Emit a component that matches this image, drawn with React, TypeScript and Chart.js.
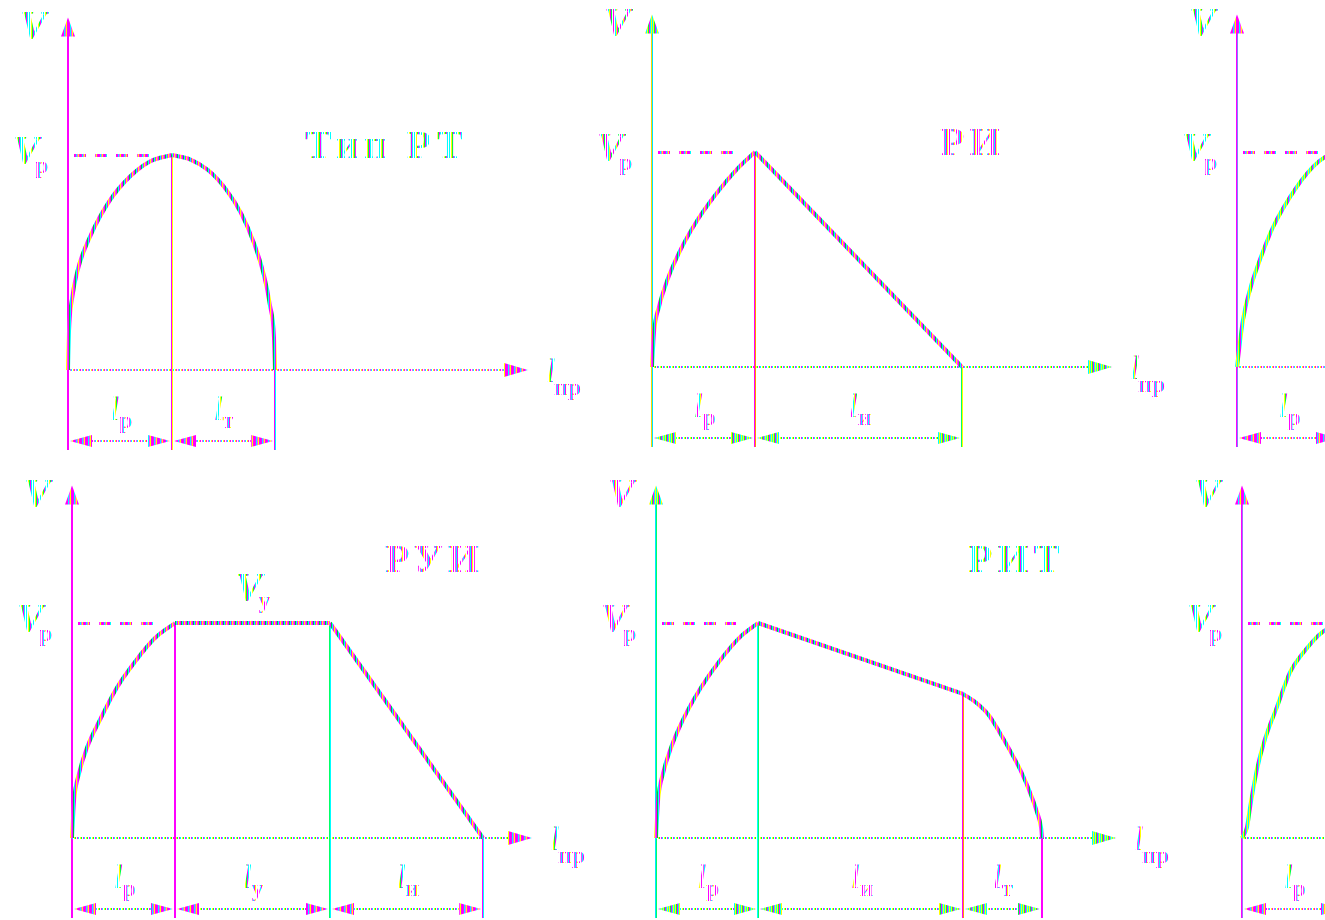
import React, { useEffect, useRef } from "react";
import { Chart, registerables } from "chart.js";

Chart.register(...registerables);

// ---- Тип РТ: разгон, торможение
const rtAccelL = [0, 0.01, 0.04, 0.1, 0.22, 0.42, 0.62, 0.82, 1.04];
const rtAccelV = [0, 0.18, 0.33, 0.47, 0.62, 0.79, 0.9, 0.97, 1.0];
const rtBrakeL = [1.04, 1.22, 1.4, 1.58, 1.73, 1.86, 1.96, 2.02, 2.06, 2.07];
const rtBrakeV = [1.0, 0.98, 0.93, 0.84, 0.73, 0.59, 0.44, 0.3, 0.15, 0];
const rtMarks = [0, 1.04, 2.07];
const rtSubs = ["р", "т"];

// ---- РИ: разгон, выбег
const riAccelL = [0, 0.02, 0.07, 0.15, 0.28, 0.45, 0.65, 0.85, 1.03];
const riAccelV = [0, 0.16, 0.28, 0.4, 0.54, 0.68, 0.81, 0.92, 1.0];
const riCoastL = [1.03, 3.1];
const riCoastV = [1.0, 0];
const riMarks = [0, 1.03, 3.1];
const riSubs = ["р", "и"];

// ---- третья схема верхнего ряда
const p3AccelL = [0, 0.06, 0.13, 0.23, 0.36, 0.53, 0.7, 0.86, 1.03];
const p3AccelV = [0, 0.22, 0.36, 0.5, 0.65, 0.79, 0.9, 0.97, 1.0];
const p3Marks = [0, 1.03];
const p3Subs = ["р"];

// ---- РУИ: разгон, установившийся режим, выбег
const ruiAccelL = [0, 0.02, 0.07, 0.15, 0.28, 0.45, 0.63, 0.83, 1.03];
const ruiAccelV = [0, 0.17, 0.3, 0.42, 0.55, 0.7, 0.82, 0.93, 1.0];
const ruiSteadyL = [1.03, 2.58];
const ruiSteadyV = [1.0, 1.0];
const ruiCoastL = [2.58, 4.11];
const ruiCoastV = [1.0, 0];
const ruiMarks = [0, 1.03, 2.58, 4.11];
const ruiSubs = ["р", "у", "и"];

// ---- РИТ: разгон, выбег, торможение
const ritAccelL = [0, 0.02, 0.07, 0.15, 0.28, 0.45, 0.63, 0.83, 1.02];
const ritAccelV = [0, 0.17, 0.3, 0.42, 0.56, 0.7, 0.82, 0.93, 1.0];
const ritCoastL = [1.02, 3.07];
const ritCoastV = [1.0, 0.67];
const ritBrakeL = [3.07, 3.2, 3.33, 3.45, 3.56, 3.66, 3.75, 3.81, 3.85, 3.86];
const ritBrakeV = [0.67, 0.63, 0.57, 0.48, 0.39, 0.3, 0.2, 0.12, 0.05, 0];
const ritMarks = [0, 1.02, 3.07, 3.86];
const ritSubs = ["р", "и", "т"];

// ---- третья схема нижнего ряда
const p6AccelL = [0, 0.05, 0.08, 0.15, 0.23, 0.35, 0.48, 0.61, 0.81, 1.03];
const p6AccelV = [0, 0.05, 0.14, 0.32, 0.46, 0.61, 0.77, 0.86, 0.96, 1.0];
const p6Marks = [0, 1.03];
const p6Subs = ["р"];

// ---- geometry of one panel canvas
const PX_L = 100; // px per unit of path
const PX_V = 215; // px per V_р
const CW = 585;
const CH = 470;
const PAD_L = 60;
const PAD_T = 365;
const L_AXIS = 4.6;
const V_AXIS = 1.64;
const DIM = -71 / PX_V;

const PALETTES: Record<string, string[]> = {
  mag: ["#ff00ff", "#ff00ff", "#00ffff", "#ff40ff", "#ffff00", "#ff00ff"],
  grn: ["#00ffff", "#ffff00", "#00ff40", "#ff00ff", "#00ffff", "#ffff00"],
  mix: ["#ff00ff", "#00c040", "#00ffff", "#ff00ff", "#ffff00", "#ff40ff"],
  magDot: ["#ff00ff", "#ffffff", "#ff40ff", "#00ffff", "#ffffff", "#ffff00"],
  grnDot: ["#00ffff", "#ffffff", "#ffff00", "#00ff40", "#ffffff", "#ff00ff"],
  magTxt: ["#ff00ff", "#ffffff", "#ff40ff", "#00ffff", "#ff00ff", "#ffff00", "#ffffff"],
  grnTxt: ["#00ffff", "#ffffff", "#ffff00", "#00ff40", "#ff00ff", "#00ffff", "#ffffff"],
  mixTxt: ["#ff00ff", "#ffffff", "#00ffff", "#ffff00", "#ff00ff", "#00ff40", "#ffffff"],
};

type Seg = { l: number[]; v: number[] };
type Tone = {
  yAxis: string[];
  axis: string;
  xAxis: string;
  dim: string;
  curve: string;
  dash: string;
  label: string;
  sub: string;
  title: string;
  marks: string[][];
};
type PanelCfg = {
  ox: number;
  oy: number;
  segs: Seg[];
  marks: number[];
  subs: string[];
  title?: string;
  titleAt?: [number, number];
  steadyLabel?: boolean;
  tone: Tone;
};

const PANELS: PanelCfg[] = [
  {
    ox: 68, oy: 370,
    segs: [{ l: rtAccelL, v: rtAccelV }, { l: rtBrakeL, v: rtBrakeV }],
    marks: rtMarks, subs: rtSubs, title: "Тип РТ", titleAt: [237, -212],
    tone: { yAxis: ["#ff00ff", "#ff00ff"], axis: "mag", xAxis: "magDot", dim: "magDot", curve: "mix", dash: "mag", label: "grnTxt", sub: "magTxt", title: "grnTxt", marks: [["#ff00ff", "#ffff00"], ["#ff00ff", "#00ffff"]] },
  },
  {
    ox: 652, oy: 367,
    segs: [{ l: riAccelL, v: riAccelV }, { l: riCoastL, v: riCoastV }],
    marks: riMarks, subs: riSubs, title: "РИ", titleAt: [288, -212],
    tone: { yAxis: ["#ffd700", "#00e5ff"], axis: "grn", xAxis: "grnDot", dim: "grnDot", curve: "mix", dash: "mag", label: "mixTxt", sub: "magTxt", title: "magTxt", marks: [["#ff00ff", "#ff9900"], ["#00ff66", "#ffff00"]] },
  },
  {
    ox: 1237, oy: 367,
    segs: [{ l: p3AccelL, v: p3AccelV }],
    marks: p3Marks, subs: p3Subs,
    tone: { yAxis: ["#ff00ff", "#8080ff"], axis: "mag", xAxis: "magDot", dim: "magDot", curve: "grn", dash: "mag", label: "grnTxt", sub: "magTxt", title: "magTxt", marks: [["#ff00ff", "#00ffff"]] },
  },
  {
    ox: 72, oy: 838,
    segs: [{ l: ruiAccelL, v: ruiAccelV }, { l: ruiSteadyL, v: ruiSteadyV }, { l: ruiCoastL, v: ruiCoastV }],
    marks: ruiMarks, subs: ruiSubs, title: "РУИ", titleAt: [313, -266], steadyLabel: true,
    tone: { yAxis: ["#ff00ff", "#ff00ff"], axis: "mag", xAxis: "grnDot", dim: "grnDot", curve: "mix", dash: "mag", label: "grnTxt", sub: "magTxt", title: "magTxt", marks: [["#ff00ff", "#ff00ff"], ["#00ff66", "#00ffff"], ["#ff00ff", "#00ffff"]] },
  },
  {
    ox: 656, oy: 838,
    segs: [{ l: ritAccelL, v: ritAccelV }, { l: ritCoastL, v: ritCoastV }, { l: ritBrakeL, v: ritBrakeV }],
    marks: ritMarks, subs: ritSubs, title: "РИТ", titleAt: [312, -266],
    tone: { yAxis: ["#00e5ff", "#00ff66"], axis: "grn", xAxis: "grnDot", dim: "grnDot", curve: "mix", dash: "mag", label: "magTxt", sub: "magTxt", title: "grnTxt", marks: [["#00ffff", "#00ff66"], ["#ff00ff", "#ff9900"], ["#ff00ff", "#ff00ff"]] },
  },
  {
    ox: 1242, oy: 838,
    segs: [{ l: p6AccelL, v: p6AccelV }],
    marks: p6Marks, subs: p6Subs,
    tone: { yAxis: ["#ff00ff", "#a070ff"], axis: "mag", xAxis: "grnDot", dim: "magDot", curve: "grn", dash: "mag", label: "grnTxt", sub: "magTxt", title: "magTxt", marks: [["#ff00ff", "#00ffff"]] },
  },
];

const V_FONT = 'italic bold 40px "Liberation Serif"';
const L_FONT = 'italic 34px "Liberation Serif"';
const SUB_FONT = 'bold 24px "Liberation Serif"';
const TITLE_FONT = 'bold 40px "Liberation Serif"';

function stripes(ctx: CanvasRenderingContext2D, cols: string[]): CanvasPattern {
  const c = document.createElement("canvas");
  c.width = cols.length;
  c.height = 1;
  const g = c.getContext("2d")!;
  cols.forEach((col, i) => {
    g.fillStyle = col;
    g.fillRect(i, 0, 1, 1);
  });
  return ctx.createPattern(c, "repeat")!;
}

function vline(ctx: CanvasRenderingContext2D, x: number, y1: number, y2: number, cols: string[]) {
  const x0 = Math.round(x) - Math.floor(cols.length / 2);
  cols.forEach((c, i) => {
    ctx.fillStyle = c;
    ctx.fillRect(x0 + i, Math.min(y1, y2), 1, Math.abs(y2 - y1));
  });
}

function hline(ctx: CanvasRenderingContext2D, x1: number, x2: number, y: number, fill: CanvasPattern) {
  ctx.fillStyle = fill;
  ctx.fillRect(Math.min(x1, x2), Math.round(y) - 1, Math.abs(x2 - x1), 2);
}

function arrowH(ctx: CanvasRenderingContext2D, tipX: number, y: number, dir: number, len: number, half: number, fill: CanvasPattern) {
  ctx.fillStyle = fill;
  ctx.beginPath();
  ctx.moveTo(tipX, y);
  ctx.lineTo(tipX - dir * len, y - half);
  ctx.lineTo(tipX - dir * len, y + half);
  ctx.closePath();
  ctx.fill();
}

function valueAt(p: PanelCfg, l: number): number {
  for (const s of p.segs) {
    const i = s.l.indexOf(l);
    if (i >= 0) return s.v[i];
  }
  return 0;
}

function Panel({ p }: { p: PanelCfg }) {
  const ref = useRef<HTMLCanvasElement>(null);

  useEffect(() => {
    const canvas = ref.current!;
    const ctx0 = canvas.getContext("2d")!;
    const pat: Record<string, CanvasPattern> = {};
    Object.keys(PALETTES).forEach((k) => (pat[k] = stripes(ctx0, PALETTES[k])));
    const t = p.tone;

    const diagram = {
      id: "diagram",
      beforeDatasetsDraw(chart: Chart) {
        const ctx = chart.ctx;
        const X = (v: number) => chart.scales.x.getPixelForValue(v);
        const Y = (v: number) => chart.scales.y.getPixelForValue(v);
        const ox = X(0);
        const oy = Y(0);
        const dimY = Y(DIM);
        const bottom = dimY + 9;
        ctx.save();

        // V axis with arrow
        const top = Y(V_AXIS);
        vline(ctx, ox, top + 14, bottom, t.yAxis);
        ctx.fillStyle = pat[t.axis];
        ctx.beginPath();
        ctx.moveTo(ox, top);
        ctx.lineTo(ox - 7, top + 19);
        ctx.lineTo(ox + 7, top + 19);
        ctx.closePath();
        ctx.fill();

        // path axis with arrow
        const xEnd = X(L_AXIS);
        hline(ctx, ox, xEnd - 20, oy, pat[t.xAxis]);
        arrowH(ctx, xEnd, oy, 1, 24, 7, pat[t.axis]);

        // V_р dashed level
        const peakX = X(p.marks[1]);
        const yp = Math.round(Y(1)) - 1;
        ctx.fillStyle = pat[t.dash];
        for (let x = ox + 6; x < peakX - 22; x += 21) {
          ctx.fillRect(x, yp, Math.min(12, peakX - 22 - x), 3);
        }

        // boundaries of the stages
        p.marks.forEach((m, i) => {
          if (i === 0) return;
          vline(ctx, X(m), Y(valueAt(p, m)), bottom, t.marks[i - 1]);
        });

        // dimension chains
        for (let i = 0; i + 1 < p.marks.length; i++) {
          const a = X(p.marks[i]) + 2;
          const b = X(p.marks[i + 1]) - 2;
          hline(ctx, a + 18, b - 18, dimY, pat[t.dim]);
          arrowH(ctx, a, dimY, -1, 22, 6, pat[t.axis]);
          arrowH(ctx, b, dimY, 1, 22, 6, pat[t.axis]);
        }
        ctx.restore();
      },
      afterDatasetsDraw(chart: Chart) {
        const ctx = chart.ctx;
        const X = (v: number) => chart.scales.x.getPixelForValue(v);
        const Y = (v: number) => chart.scales.y.getPixelForValue(v);
        const ox = X(0);
        const oy = Y(0);
        const dimY = Y(DIM);
        ctx.save();
        ctx.textBaseline = "alphabetic";
        ctx.textAlign = "left";

        // V
        ctx.font = V_FONT;
        ctx.fillStyle = pat[t.label];
        ctx.fillText("V", ox - 48, Y(V_AXIS) + 21);
        // V_р
        ctx.fillText("V", ox - 55, Y(1) + 8);
        ctx.font = SUB_FONT;
        ctx.fillStyle = pat[t.sub];
        ctx.fillText("р", ox - 33, Y(1) + 18);

        // V_у over the steady stage
        if (p.steadyLabel) {
          const mid = (X(p.marks[1]) + X(p.marks[2])) / 2;
          ctx.font = V_FONT;
          ctx.fillStyle = pat[t.label];
          ctx.fillText("V", mid - 17, Y(1) - 23);
          ctx.font = SUB_FONT;
          ctx.fillStyle = pat[t.sub];
          ctx.fillText("у", mid + 6, Y(1) - 15);
        }

        // l_пр
        const xEnd = X(L_AXIS);
        ctx.font = L_FONT;
        ctx.fillStyle = pat[t.label];
        ctx.fillText("l", xEnd + 18, oy + 12);
        ctx.font = SUB_FONT;
        ctx.fillStyle = pat[t.sub];
        ctx.fillText("пр", xEnd + 26, oy + 25);

        // stage lengths
        for (let i = 0; i + 1 < p.marks.length; i++) {
          const mid = (X(p.marks[i]) + X(p.marks[i + 1])) / 2;
          ctx.font = L_FONT;
          ctx.fillStyle = pat[t.label];
          ctx.fillText("l", mid - 10, dimY - 21);
          ctx.font = SUB_FONT;
          ctx.fillStyle = pat[t.sub];
          ctx.fillText(p.subs[i], mid - 1, dimY - 13);
        }

        // title
        if (p.title && p.titleAt) {
          ctx.font = TITLE_FONT;
          (ctx as any).letterSpacing = "5px";
          ctx.fillStyle = pat[t.title];
          ctx.fillText(p.title, ox + p.titleAt[0], oy + p.titleAt[1]);
        }
        ctx.restore();
      },
    };

    const chart = new Chart(canvas, {
      type: "line",
      data: {
        datasets: p.segs.map((s) => ({
          data: s.l.map((l, i) => ({ x: l, y: s.v[i] })),
          borderColor: pat[t.curve],
          borderWidth: 4,
          pointRadius: 0,
          fill: false,
          cubicInterpolationMode: s.l.length > 2 ? "monotone" : "default",
        })),
      },
      options: {
        animation: false,
        responsive: false,
        devicePixelRatio: 1,
        events: [],
        layout: { padding: 0 },
        plugins: { legend: { display: false }, tooltip: { enabled: false } },
        scales: {
          x: { type: "linear", display: false, min: -PAD_L / PX_L, max: (CW - PAD_L) / PX_L },
          y: { type: "linear", display: false, min: -(CH - PAD_T) / PX_V, max: PAD_T / PX_V },
        },
      },
      plugins: [diagram],
    } as any);
    return () => chart.destroy();
  }, [p]);

  return (
    <canvas
      ref={ref}
      width={CW}
      height={CH}
      style={{ position: "absolute", left: p.ox - PAD_L, top: p.oy - PAD_T, width: CW, height: CH }}
    />
  );
}

export default function App() {
  return (
    <div
      style={{
        position: "fixed",
        left: 0,
        top: 0,
        width: 1325,
        height: 920,
        overflow: "hidden",
        background: "#ffffff",
      }}
    >
      {PANELS.map((p, i) => (
        <Panel key={i} p={p} />
      ))}
    </div>
  );
}
